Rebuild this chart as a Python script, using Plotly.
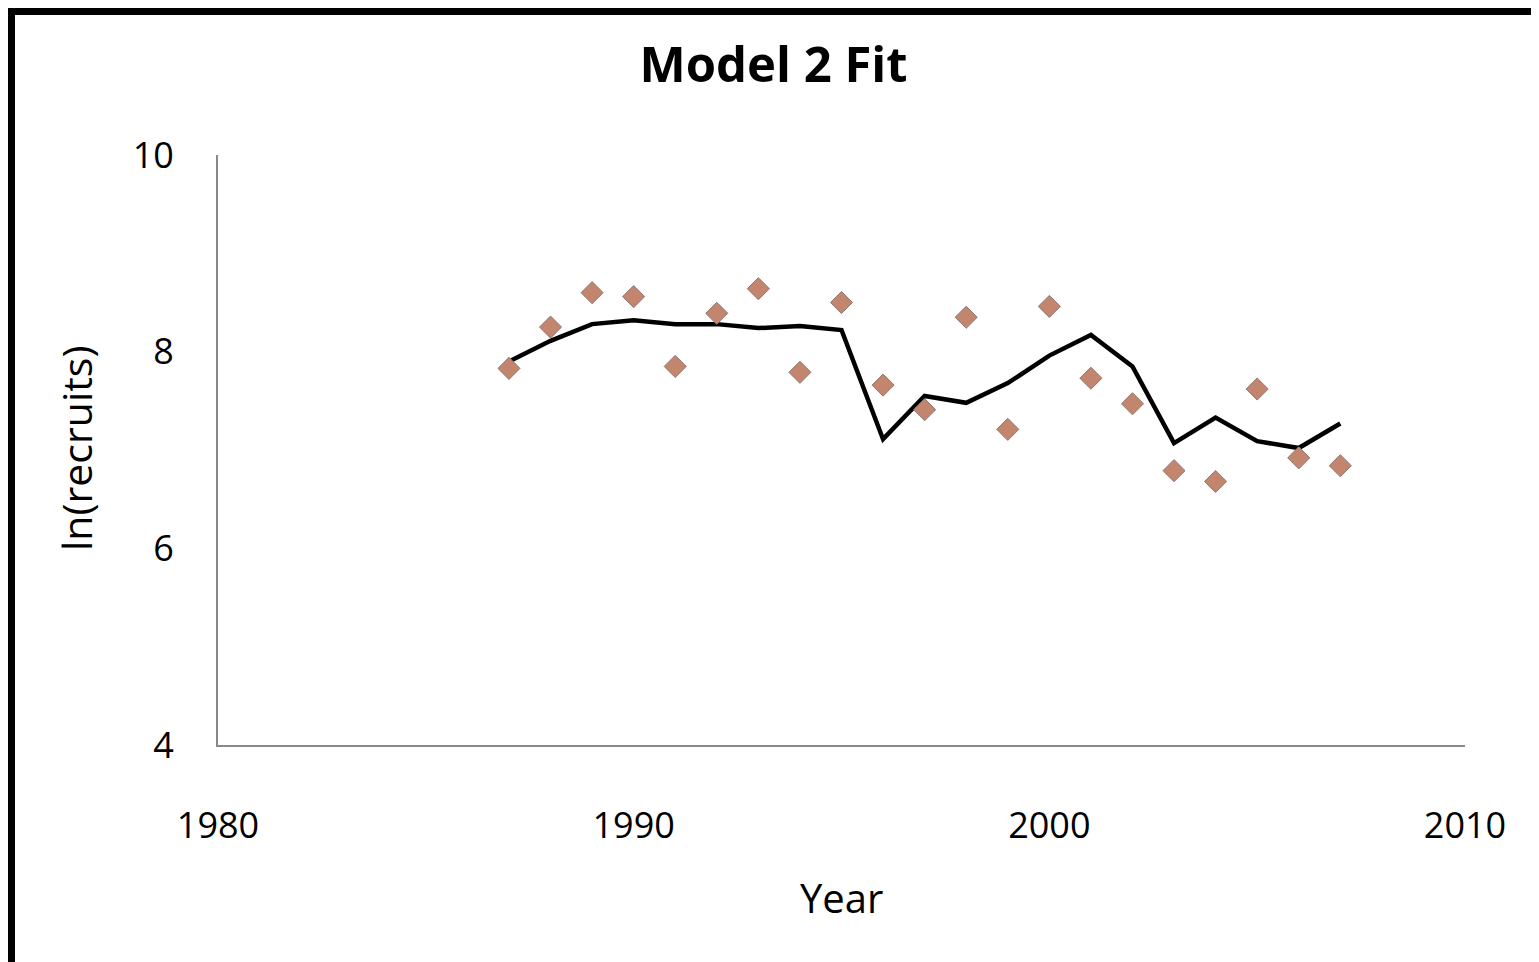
import plotly.graph_objects as go

years = list(range(1987, 2008))
observed = [7.83, 8.25, 8.60, 8.56, 7.85, 8.39, 8.64, 7.79, 8.50, 7.66, 7.41,
            8.35, 7.21, 8.46, 7.73, 7.47, 6.79, 6.68, 7.62, 6.92, 6.84]
fitted = [7.90, 8.11, 8.28, 8.32, 8.28, 8.28, 8.24, 8.26, 8.22, 7.11, 7.55,
          7.48, 7.68, 7.96, 8.17, 7.85, 7.07, 7.33, 7.09, 7.02, 7.27]
x_ticks = [1980, 1990, 2000, 2010]
y_ticks = [4, 6, 8, 10]

FONT = "'Open Sans', Lato, sans-serif"
# page body has an 8px default margin
W, H = 1531, 954
ML, MR, MT, MB = 210, 74, 147, 217
PW, PH = W - ML - MR, H - MT - MB

fig = go.Figure()
fig.add_trace(go.Scatter(
    x=years, y=fitted, mode="lines",
    line=dict(color="black", width=4.5), showlegend=False))
fig.add_trace(go.Scatter(
    x=years, y=observed, mode="markers",
    marker=dict(symbol="diamond", size=17, color="#C4856E",
                line=dict(color="#8E7A72", width=1)),
    showlegend=False))

# black frame on top and left edges
bw = 7
fig.add_shape(type="rect", xref="paper", yref="paper", layer="above",
              x0=-ML / PW, x1=(-ML + bw) / PW, y0=-MB / PH, y1=(PH + MT) / PH,
              fillcolor="black", line=dict(width=0))
fig.add_shape(type="rect", xref="paper", yref="paper", layer="above",
              x0=-ML / PW, x1=(PW + MR) / PW, y0=(PH + MT - bw) / PH, y1=(PH + MT) / PH,
              fillcolor="black", line=dict(width=0))

# axis titles
fig.add_annotation(text="Year", xref="paper", yref="paper", x=0.5,
                   y=-(889 - (MT + PH)) / PH, xanchor="center", yanchor="middle",
                   showarrow=False, font=dict(size=40, family=FONT, color="black"))
fig.add_annotation(text="ln(recruits)", xref="paper", yref="paper",
                   x=-(ML - 68) / PW, y=0.5 + 2 / PH, xanchor="center", yanchor="middle",
                   textangle=-90, showarrow=False,
                   font=dict(size=41, family=FONT, color="black"))

fig.update_layout(
    width=W, height=H,
    margin=dict(l=ML, r=MR, t=MT, b=MB),
    paper_bgcolor="white", plot_bgcolor="white",
    font=dict(family=FONT, color="black"),
    title=dict(text="<b>Model 2 Fit</b>", x=0.5, xref="container", xanchor="center",
               y=1 - 57 / H, yref="container", yanchor="middle",
               font=dict(size=49, family=FONT, color="black")),
    xaxis=dict(range=[1980, 2010], tickvals=x_ticks, ticktext=[str(v) for v in x_ticks],
               showgrid=False, zeroline=False, showline=True, linecolor="#888888",
               linewidth=2, ticks="", tickfont=dict(size=36), ticklabelstandoff=48),
    yaxis=dict(range=[4, 10], tickvals=y_ticks, ticktext=[str(v) for v in y_ticks],
               showgrid=False, zeroline=False, showline=True, linecolor="#888888",
               linewidth=2, ticks="", tickfont=dict(size=36), ticklabelstandoff=35),
)

fig.write_html("out.html")
